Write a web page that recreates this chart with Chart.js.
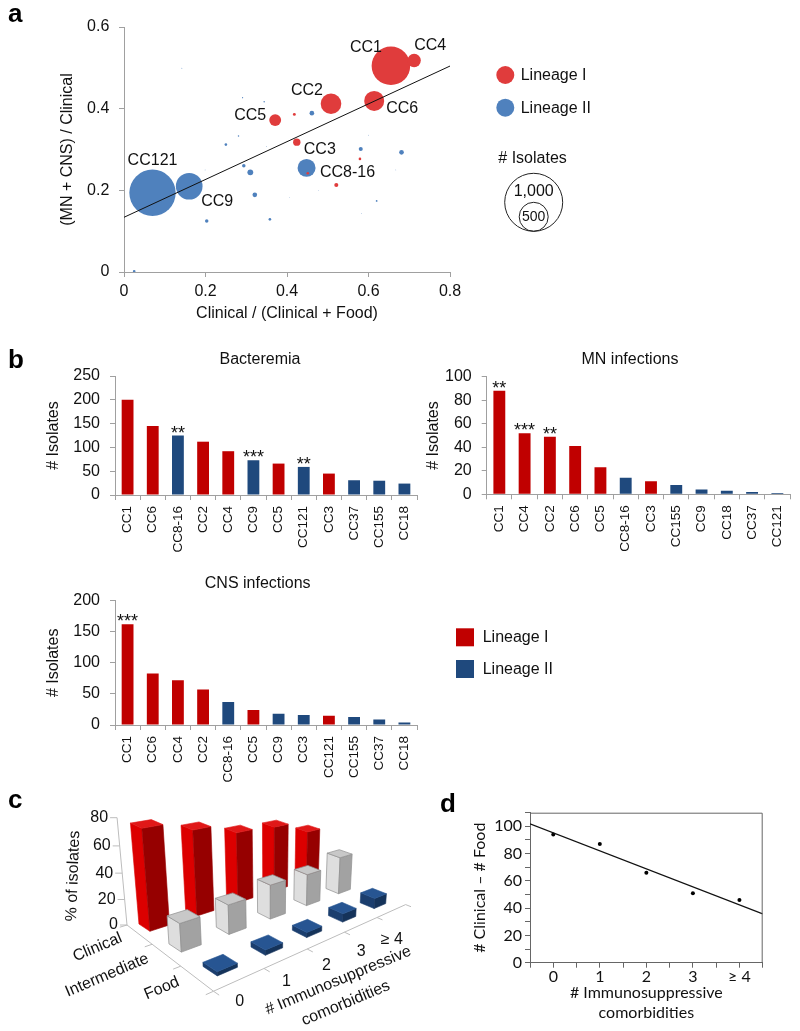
<!DOCTYPE html>
<html><head><meta charset="utf-8">
<script src="https://cdn.jsdelivr.net/npm/chart.js@4.4.1/dist/chart.umd.min.js"></script>
<style>
html,body{margin:0;padding:0;background:#fff}
body{position:relative;width:800px;height:1031px;overflow:hidden}
canvas{position:absolute;display:block}
</style></head><body>
<canvas id="cA" width="800" height="330" style="left:0px;top:0px"></canvas>
<canvas id="cB1" width="430" height="240" style="left:0px;top:330px"></canvas>
<canvas id="cB2" width="400" height="240" style="left:400px;top:330px"></canvas>
<canvas id="cB3" width="800" height="230" style="left:0px;top:570px"></canvas>
<canvas id="cC" width="480" height="261" style="left:0px;top:770px"></canvas>
<canvas id="cD" width="370" height="261" style="left:430px;top:770px"></canvas>
<script>
// ---------------- DATA ----------------
// Panel a: bubbles (x = Clinical/(Clinical+Food), y = (MN+CNS)/Clinical, n = # isolates)
const linI_x   = [0.655, 0.712, 0.508, 0.614, 0.371, 0.424, 0.418, 0.521, 0.451, 0.579];
const linI_y   = [0.505, 0.518, 0.412, 0.419, 0.372, 0.318, 0.386, 0.213, 0.242, 0.277];
const linI_n   = [665, 230, 355, 345, 205, 128, 50, 70, 45, 45];
const linI_lab = ['CC1','CC4','CC2','CC6','CC5','CC3','','','',''];
const linII_x  = [0.070, 0.160, 0.448, 0.461, 0.581, 0.681, 0.310, 0.294, 0.321, 0.203, 0.358, 0.250, 0.025, 0.281, 0.344, 0.291, 0.620, 0.142, 0.477, 0.406, 0.583, 0.667, 0.600, 0.350, 0.199];
const linII_y  = [0.194, 0.210, 0.255, 0.389, 0.301, 0.293, 0.244, 0.260, 0.189, 0.125, 0.129, 0.312, 0.002, 0.333, 0.417, 0.427, 0.174, 0.499, 0.199, 0.183, 0.143, 0.250, 0.335, 0.307, 0.250];
const linII_n  = [800, 460, 310, 80, 70, 80, 100, 60, 80, 60, 45, 45, 45, 25, 25, 20, 30, 15, 12, 12, 12, 12, 12, 12, 12];
const linII_lab= ['CC121','CC9','CC8-16'];
const fitA_intercept = 0.134, fitA_slope = 0.463;
const aXTicks = [0, 0.8, 0.2], aYTicks = [0, 0.6, 0.2];
const sizeLegend = [1000, 500];

// Panel b
const bactCats = ['CC1','CC6','CC8-16','CC2','CC4','CC9','CC5','CC121','CC3','CC37','CC155','CC18'];
const bactVals = [200, 145, 125, 112, 92, 73, 66, 59, 45, 31, 30, 24];
const bactLin  = [1,1,2,1,1,2,1,2,1,2,2,2];
const bactStar = ['','','**','','','***','','**','','','',''];
const mnCats = ['CC1','CC4','CC2','CC6','CC5','CC8-16','CC3','CC155','CC9','CC18','CC37','CC121'];
const mnVals = [88, 52, 49, 41, 23, 14, 11, 8, 4, 3, 2, 1];
const mnLin  = [1,1,1,1,1,2,1,2,2,2,2,2];
const mnStar = ['**','***','**','','','','','','','','',''];
const cnsCats = ['CC1','CC6','CC4','CC2','CC8-16','CC5','CC9','CC3','CC121','CC155','CC37','CC18'];
const cnsVals = [162, 83, 72, 57, 37, 24, 18, 16, 15, 13, 9, 4];
const cnsLin  = [1,1,1,1,2,1,2,2,1,2,2,2];
const cnsStar = ['***','','','','','','','','','','',''];

// Panel c (% of isolates)
const cCats = ['0','1','2','3','\u2265 4'];
const cRows = ['Clinical','Intermediate','Food'];
const cClinical     = [76, 68, 59, 57, 46];
const cIntermediate = [21, 23, 28, 27, 33];
const cFood         = [3, 4, 4, 7, 9];
const cYTicks = [0, 20, 40, 60, 80];

// Panel d
const dCats = ['0','1','2','3','\u2265 4'];
const dX = [0, 1, 2, 3, 4];
const dY = [94, 87, 66, 51, 46];

// ---------------- STYLE / HELPERS ----------------
const FONT = "'Liberation Sans', Arial, Helvetica, sans-serif";
Chart.defaults.font.family = FONT;
Chart.defaults.color = '#111';
Chart.defaults.animation = false;
Chart.defaults.events = [];
Chart.defaults.responsive = false;
Chart.defaults.devicePixelRatio = 1;
Chart.defaults.plugins.legend.display = false;
Chart.defaults.plugins.tooltip.enabled = false;

const RED_A = '#e03c3c', BLUE_A = '#4f81bd';
const RED_B = '#c00000', BLUE_B = '#1f497d';
const AXIS = '#a0a0a0';
const pxPerIsolate = 0.029;

function txt(ctx, s, x, y, o = {}) {
  ctx.save();
  ctx.font = o.font || ('16px ' + FONT);
  ctx.fillStyle = o.color || '#111';
  ctx.textAlign = o.align || 'left';
  ctx.textBaseline = o.base || 'middle';
  ctx.translate(x, y);
  if (o.rot) ctx.rotate(o.rot * Math.PI / 180);
  ctx.fillText(s, 0, 0);
  ctx.restore();
}

// ---------------- PANEL A ----------------
function bubbles(xs, ys, ns) { return xs.map((x, i) => ({x, y: ys[i], r: ns[i] * pxPerIsolate})); }
const labelOffsets = {CC1:[-25,-18], CC4:[16,-15], CC2:[-24,-13], CC6:[28,8], CC5:[-25,-5], CC3:[23,7], 'CC8-16':[41,5], CC121:[0,-32], CC9:[28,15]};

new Chart(document.getElementById('cA'), {
  type: 'bubble',
  data: { datasets: [
    { type: 'line', data: [{x: aXTicks[0], y: fitA_intercept + fitA_slope * aXTicks[0]}, {x: aXTicks[1], y: fitA_intercept + fitA_slope * aXTicks[1]}],
      borderColor: '#111', borderWidth: 1, pointRadius: 0, fill: false },
    { data: bubbles(linI_x, linI_y, linI_n), backgroundColor: RED_A, borderWidth: 0 },
    { data: bubbles(linII_x, linII_y, linII_n), backgroundColor: BLUE_A, borderWidth: 0 }
  ]},
  options: {
    layout: { padding: { left: 0, top: 27, right: 350, bottom: 0 } },
    scales: {
      x: { type: 'linear', min: aXTicks[0], max: aXTicks[1],
           ticks: { stepSize: aXTicks[2], font: { size: 16 }, color: '#111', padding: 5 },
           grid: { drawOnChartArea: false, tickLength: 5, color: AXIS }, border: { color: AXIS },
           title: { display: true, text: 'Clinical / (Clinical + Food)', font: { size: 16 }, color: '#111', padding: { top: 0, bottom: 6.4 } },
           afterFit: s => { s.height = 58; } },
      y: { type: 'linear', min: aYTicks[0], max: aYTicks[1],
           ticks: { stepSize: aYTicks[2], font: { size: 16 }, color: '#111', padding: 9.7 },
           grid: { drawOnChartArea: false, tickLength: 5, color: AXIS }, border: { color: AXIS },
           title: { display: true, text: '(MN + CNS) / Clinical', font: { size: 16 }, color: '#111', padding: { top: 57.9, bottom: 0 } },
           afterFit: s => { s.width = 124; } }
    }
  },
  plugins: [{ id: 'annA', afterDraw(chart) {
    const ctx = chart.ctx;
    [[1, linI_lab], [2, linII_lab]].forEach(([di, labs]) => {
      const meta = chart.getDatasetMeta(di);
      labs.forEach((l, i) => {
        if (!l) return;
        const el = meta.data[i], off = labelOffsets[l] || [0, 0];
        txt(ctx, l, el.x + off[0], el.y + off[1], { align: 'center' });
      });
    });
    txt(ctx, 'a', 8, 21.7, { font: 'bold 26px ' + FONT, base: 'alphabetic', color: '#000' });
    ctx.fillStyle = RED_A; ctx.beginPath(); ctx.arc(505.3, 75, 9, 0, Math.PI * 2); ctx.fill();
    ctx.fillStyle = BLUE_A; ctx.beginPath(); ctx.arc(505.3, 107.7, 9, 0, Math.PI * 2); ctx.fill();
    txt(ctx, 'Lineage I', 520.7, 75.5);
    txt(ctx, 'Lineage II', 520.7, 108.2);
    txt(ctx, '# Isolates', 498.3, 158.3);
    const bottom = 231.3, cx = 533.7;
    ctx.strokeStyle = '#222'; ctx.lineWidth = 1;
    sizeLegend.forEach(n => {
      const r = n * pxPerIsolate;
      ctx.beginPath(); ctx.arc(cx, bottom - r, r, 0, Math.PI * 2); ctx.stroke();
    });
    txt(ctx, '1,000', cx, 191.7, { align: 'center' });
    txt(ctx, '500', cx, 217, { align: 'center', font: '14px ' + FONT });
  }}]
});

// ---------------- PANEL B ----------------
function barPanel(id, W, H, cats, vals, lin, stars, yMax, yStep, g) {
  new Chart(document.getElementById(id), {
    type: 'bar',
    data: { labels: cats, datasets: [{ data: vals, backgroundColor: lin.map(l => l === 1 ? RED_B : BLUE_B), barPercentage: 0.47, categoryPercentage: 1 }] },
    options: {
      layout: { padding: { left: 0, top: g.top, right: W - g.right, bottom: 0 } },
      scales: {
        x: { grid: { drawOnChartArea: false, tickLength: 5, color: AXIS, offset: true }, border: { color: AXIS },
             ticks: { autoSkip: false, minRotation: 90, maxRotation: 90, padding: 6, font: { size: 13.5 }, color: '#111' },
             afterFit: s => { s.height = H - g.bottom; } },
        y: { min: 0, max: yMax, ticks: { stepSize: yStep, padding: 10, font: { size: 16 }, color: '#111' },
             grid: { drawOnChartArea: false, tickLength: 5, color: AXIS }, border: { color: AXIS },
             title: { display: true, text: '# Isolates', font: { size: 16 }, color: '#111', padding: { top: g.ytitle - 9.6, bottom: 0 } },
             afterFit: s => { s.width = g.left; } }
      }
    },
    plugins: [{ id: id + 'ann', afterDraw(chart) {
      const ctx = chart.ctx;
      txt(ctx, g.title, g.tx, g.ty, { align: 'center' });
      const meta = chart.getDatasetMeta(0);
      stars.forEach((s, i) => {
        if (!s) return;
        const el = meta.data[i];
        txt(ctx, s, el.x, el.y + 3, { align: 'center', base: 'alphabetic', font: '18px ' + FONT });
      });
      if (g.extra) g.extra(ctx);
    }}]
  });
}

barPanel('cB1', 430, 240, bactCats, bactVals, bactLin, bactStar, 250, 50,
  { left: 115, right: 417, top: 46, bottom: 165, ytitle: 53.3, title: 'Bacteremia', tx: 260, ty: 29.3,
    extra: ctx => txt(ctx, 'b', 8, 38, { font: 'bold 26px ' + FONT, base: 'alphabetic', color: '#000' }) });
barPanel('cB2', 400, 240, mnCats, mnVals, mnLin, mnStar, 100, 20,
  { left: 86.7, right: 390, top: 46.7, bottom: 164.3, ytitle: 33.3, title: 'MN infections', tx: 230, ty: 29.3 });
barPanel('cB3', 800, 230, cnsCats, cnsVals, cnsLin, cnsStar, 200, 50,
  { left: 115, right: 417, top: 30.7, bottom: 155, ytitle: 53.3, title: 'CNS infections', tx: 257.7, ty: 13.3,
    extra: ctx => {
      ctx.fillStyle = RED_B; ctx.fillRect(456, 58.3, 18, 18);
      ctx.fillStyle = BLUE_B; ctx.fillRect(456, 90, 18, 18);
      txt(ctx, 'Lineage I', 482.7, 67.8);
      txt(ctx, 'Lineage II', 482.7, 99.5);
    } });

// ---------------- PANEL C (3D columns) ----------------
// perspective calibration: floor positions [X, Z] and their canvas pixels
const cFloorCal = [
  [0.5,2.5,220,198],[1.5,2.5,266.7,176],[2.5,2.5,306.7,161],[3.5,2.5,342.5,144],[4.5,2.5,373.3,132],
  [0.5,1.5,188,174],[1.5,1.5,235.7,158.4],[2.5,1.5,272.3,142.4],[3.5,1.5,306.3,130.7],[4.5,1.5,336.3,117.4],
  [0.5,0.5,151.3,155.4],[1.5,0.5,199.7,140.7],
  [0,3,211.7,220],[1,3,262.7,198.1],[2,3,306.7,179.2],[3,3,344.7,162.9],[4,3,377.5,148.8],[5,3,405.8,136.7]
];
const cAxisCorner = [127, 155];
const cAxisTop = [80, 47.7];
const cVanish = [270, 1700];
const cBarW = 0.40, cBarD = 0.38;
const cFaces = [
  { top: '#e01818', left: '#dc0000', front: '#960000', edge: null },
  { top: '#c8c8c8', left: '#dedede', front: '#a2a2a2', edge: '#8f8f8f' },
  { top: '#275592', left: '#1b3e6e', front: '#15335a', edge: null }
];

function lsq(A, b) {
  const n = A[0].length;
  const M = Array.from({ length: n }, () => new Array(n + 1).fill(0));
  A.forEach((row, r) => { for (let i = 0; i < n; i++) { for (let j = 0; j < n; j++) M[i][j] += row[i] * row[j]; M[i][n] += row[i] * b[r]; } });
  for (let c = 0; c < n; c++) {
    let p = c; for (let r = c + 1; r < n; r++) if (Math.abs(M[r][c]) > Math.abs(M[p][c])) p = r;
    const t = M[c]; M[c] = M[p]; M[p] = t;
    for (let r = 0; r < n; r++) { if (r === c) continue; const f = M[r][c] / M[c][c]; for (let k = c; k <= n; k++) M[r][k] -= f * M[c][k]; }
  }
  return M.map((row, i) => row[n] / row[i]);
}
const Hs = (() => {
  const A = [], b = [];
  cFloorCal.forEach(([X, Z, u0, v0]) => {
    const u = (u0 - 250) / 100, v = (v0 - 150) / 100;
    A.push([X, Z, 1, 0, 0, 0, -u * X, -u * Z]); b.push(u);
    A.push([0, 0, 0, X, Z, 1, -v * X, -v * Z]); b.push(v);
  });
  return lsq(A, b);
})();
function floorInv(u0, v0) {
  const u = (u0 - 250) / 100, v = (v0 - 150) / 100, h = Hs;
  const a11 = h[0] - u * h[6], a12 = h[1] - u * h[7], b1 = u - h[2];
  const a21 = h[3] - v * h[6], a22 = h[4] - v * h[7], b2 = v - h[5];
  const det = a11 * a22 - a12 * a21;
  return [(b1 * a22 - a12 * b2) / det, (a11 * b2 - b1 * a21) / det];
}
const [cAX, cAZ] = floorInv(cAxisCorner[0], cAxisCorner[1]);
const vpU = (cVanish[0] - 250) / 100, vpV = (cVanish[1] - 150) / 100;
const vTop = (cAxisTop[1] - 150) / 100;
const Wa = Hs[6] * cAX + Hs[7] * cAZ + 1, Va = Hs[3] * cAX + Hs[4] * cAZ + Hs[5];
const tY = (vTop * Wa - Va) / (vpV - vTop) / cAxisTop[0];
function proj(X, Y, Z) {
  const W = Hs[6] * X + Hs[7] * Z + 1 + tY * Y;
  const U = Hs[0] * X + Hs[1] * Z + Hs[2] + tY * Y * vpU;
  const V = Hs[3] * X + Hs[4] * Z + Hs[5] + tY * Y * vpV;
  return [U / W * 100 + 250, V / W * 100 + 150];
}
function poly(ctx, pts, fill, edge) {
  ctx.beginPath(); pts.forEach((p, i) => i ? ctx.lineTo(p[0], p[1]) : ctx.moveTo(p[0], p[1])); ctx.closePath();
  ctx.fillStyle = fill; ctx.fill(); ctx.strokeStyle = edge || fill; ctx.lineWidth = edge ? 0.7 : 0.6; ctx.stroke();
}
function seg(ctx, a, b) { ctx.beginPath(); ctx.moveTo(a[0], a[1]); ctx.lineTo(b[0], b[1]); ctx.stroke(); }

new Chart(document.getElementById('cC'), {
  type: 'bar',
  data: { labels: cCats, datasets: [
    { label: cRows[0], data: cClinical, backgroundColor: 'rgba(0,0,0,0)' },
    { label: cRows[1], data: cIntermediate, backgroundColor: 'rgba(0,0,0,0)' },
    { label: cRows[2], data: cFood, backgroundColor: 'rgba(0,0,0,0)' }
  ]},
  options: { scales: { x: { display: false }, y: { display: false, min: 0, max: 80 } } },
  plugins: [{ id: 'threeD', afterDraw(chart) {
    const ctx = chart.ctx;
    const nCol = chart.data.labels.length, nRow = chart.data.datasets.length;
    const yMax = cYTicks[cYTicks.length - 1];
    const edgePt = f => [cAX + (0 - cAX) * f, cAZ + (nRow - cAZ) * f];
    ctx.save();
    ctx.strokeStyle = '#bdbdbd'; ctx.lineWidth = 1;
    seg(ctx, proj(cAX, 0, cAZ), proj(cAX, yMax, cAZ));
    seg(ctx, proj(cAX, 0, cAZ), proj(0, 0, nRow));
    seg(ctx, proj(0, 0, nRow), proj(nCol, 0, nRow));
    cYTicks.forEach(v => { const p = proj(cAX, v, cAZ); seg(ctx, p, [p[0] - 7, p[1]]); txt(ctx, String(v), p[0] - 9, p[1], { align: 'right' }); });
    for (let z = 0; z <= nRow; z++) { const e = edgePt(z / nRow); seg(ctx, proj(e[0], 0, e[1]), proj(e[0] - 0.14, 0, e[1])); }
    for (let x = 0; x <= nCol; x++) seg(ctx, proj(x, 0, nRow), proj(x, 0, nRow + 0.14));
    for (let r = 0; r < nRow; r++) {
      const vals = chart.data.datasets[r].data, f = cFaces[r];
      for (let c = nCol - 1; c >= 0; c--) {
        const v = vals[c];
        const X0 = c + 0.5 - cBarW / 2, X1 = c + 0.5 + cBarW / 2, Z0 = r + 0.5 - cBarD / 2, Z1 = r + 0.5 + cBarD / 2;
        poly(ctx, [proj(X0, 0, Z0), proj(X0, 0, Z1), proj(X0, v, Z1), proj(X0, v, Z0)], f.left, f.edge);
        poly(ctx, [proj(X0, 0, Z1), proj(X1, 0, Z1), proj(X1, v, Z1), proj(X0, v, Z1)], f.front, f.edge);
        poly(ctx, [proj(X0, v, Z0), proj(X1, v, Z0), proj(X1, v, Z1), proj(X0, v, Z1)], f.top, f.edge);
      }
    }
    chart.data.labels.forEach((l, c) => { const p = proj(c + 0.5, 0, nRow); txt(ctx, l, p[0], p[1] + 22 + 1.6 * c, { align: 'center' }); });
    chart.data.datasets.forEach((d, r) => {
      const e = edgePt((r + 0.5) / nRow), p = proj(e[0], 0, e[1]);
      txt(ctx, d.label, p[0] - 18, p[1] + 3, { align: 'right', rot: -23 });
    });
    txt(ctx, '# Immunosuppressive', 338.3, 210.7, { align: 'center', rot: -22.6 });
    txt(ctx, 'comorbidities', 345.8, 233.3, { align: 'center', rot: -22.6 });
    txt(ctx, '% of isolates', 73.3, 106, { align: 'center', rot: -88 });
    txt(ctx, 'c', 8, 38, { font: 'bold 26px ' + FONT, base: 'alphabetic', color: '#000' });
    ctx.restore();
  }}]
});

// ---------------- PANEL D ----------------
function linfit(xs, ys) {
  const n = xs.length, mx = xs.reduce((a, b) => a + b) / n, my = ys.reduce((a, b) => a + b) / n;
  let sxy = 0, sxx = 0; xs.forEach((x, i) => { sxy += (x - mx) * (ys[i] - my); sxx += (x - mx) * (x - mx); });
  const b = sxy / sxx; return { a: my - b * mx, b };
}
const dFit = linfit(dX, dY);
const dXMin = -0.5, dXMax = 4.5;
const DFONT = "Lato, 'Liberation Sans', sans-serif";
new Chart(document.getElementById('cD'), {
  type: 'scatter',
  data: { datasets: [
    { type: 'line', data: [{ x: dXMin, y: dFit.a + dFit.b * dXMin }, { x: dXMax, y: dFit.a + dFit.b * dXMax }], borderColor: '#111', borderWidth: 1.1, pointRadius: 0, fill: false },
    { data: dX.map((x, i) => ({ x, y: dY[i] })), pointRadius: 2, backgroundColor: '#000', borderWidth: 0 }
  ]},
  options: {
    layout: { padding: { left: 0, top: 42.7, right: 37.3, bottom: 0 } },
    scales: {
      x: { type: 'linear', min: dXMin, max: dXMax,
           ticks: { stepSize: 0.5, autoSkip: false, maxRotation: 0, callback: v => Number.isInteger(v) ? dCats[v] : '', font: { family: DFONT, size: 16 }, color: '#111', padding: 0 },
           grid: { drawOnChartArea: false, tickLength: 5, color: '#666' }, border: { color: '#666' },
           title: { display: true, text: ['# Immunosuppressive', 'comorbidities'], font: { family: DFONT, size: 16 }, color: '#111', padding: { top: 0, bottom: 8.9 } },
           afterFit: s => { s.height = 68.3; } },
      y: { min: 0, max: 110,
           ticks: { stepSize: 10, autoSkip: false, callback: v => v % 20 === 0 ? String(v) : '', font: { family: DFONT, size: 16 }, color: '#111', padding: 3 },
           grid: { drawOnChartArea: false, tickLength: 5, color: '#666' }, border: { color: '#666' },
           title: { display: true, text: '# Clinical \u2013 # Food', font: { family: DFONT, size: 16 }, color: '#111', padding: { top: 40.4, bottom: 0 } },
           afterFit: s => { s.width = 100; } }
    }
  },
  plugins: [{ id: 'boxD', afterDraw(chart) {
    const ctx = chart.ctx, a = chart.chartArea;
    ctx.save(); ctx.strokeStyle = '#666'; ctx.lineWidth = 1;
    ctx.beginPath(); ctx.moveTo(a.left, a.top + 0.5); ctx.lineTo(a.right - 0.5, a.top + 0.5); ctx.lineTo(a.right - 0.5, a.bottom); ctx.stroke();
    ctx.restore();
    txt(ctx, 'd', 10, 42, { font: 'bold 26px ' + FONT, base: 'alphabetic', color: '#000' });
  }}]
});
</script>
</body></html>
